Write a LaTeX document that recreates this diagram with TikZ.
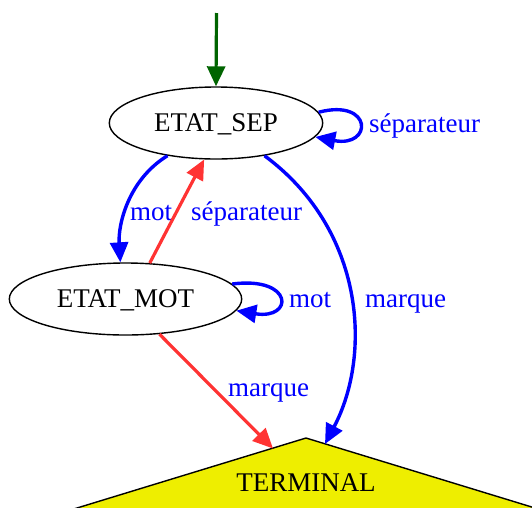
\documentclass[tikz,border=0pt]{standalone}
\usepackage{fontspec}
\setmainfont{Liberation Serif}
\usetikzlibrary{arrows.meta,shapes.geometric,calc}
\definecolor{eblue}{RGB}{0,0,255}
\definecolor{ered}{RGB}{255,51,51}
\definecolor{egreen}{RGB}{0,100,0}
\definecolor{tyellow}{RGB}{238,238,0}
\tikzset{
  state/.style={draw=black, line width=1.4pt, ellipse, inner sep=0pt, fill=white,
    font=\fontsize{27}{32}\selectfont, text height=17.8pt, text depth=0pt},
  blueedge/.style={draw=eblue, line width=3.4pt, -{Triangle[length=20pt,width=18pt]}},
  rededge/.style={draw=ered, line width=3.2pt, -{Triangle[length=20pt,width=18pt]}},
  greenedge/.style={draw=egreen, line width=3.2pt, -{Triangle[length=20pt,width=18pt]}},
  elabel/.style={text=eblue, font=\fontsize{27}{32}\selectfont, inner sep=0pt, anchor=base west},
}
\begin{document}
\begin{tikzpicture}[x=1pt,y=-1pt]
\useasboundingbox (0,0) rectangle (532,507);
% terminal triangle
\begin{scope}
  \clip (0,0) rectangle (532,507);
  \draw[fill=tyellow, line width=1.4pt, line join=miter] (306,438) -- (5,530) -- (607,530) -- cycle;
\end{scope}
\node[font=\fontsize{27}{32}\selectfont, inner sep=0pt, text height=17.8pt, text depth=0pt] (term) at (306,483) {TERMINAL};
\coordinate (tA) at (273,448.5);
\coordinate (tB) at (325,444);

\node[state, minimum width=213.4pt, minimum height=72pt] (sep) at (216,123) {ETAT\_SEP};
\node[state, minimum width=232.4pt, minimum height=72pt] (mot) at (125.5,299) {ETAT\_MOT};

\coordinate (start) at (216.5,13);
\draw[greenedge] (start) -- (sep.north);

% self loops
\draw[blueedge] (sep.6) .. controls (373,98) and (373,148) .. (sep.-8);
\node[elabel] (l1) at (369,132) {séparateur};
\draw[blueedge] (mot.8) .. controls (294,276) and (294,320) .. (mot.-6);
\node[elabel] (l2) at (289,307) {mot};

% SEP -> MOT
\draw[blueedge] (sep.214) .. controls (128,180) and (118,225) .. (mot.98);
\node[elabel] (l3) at (130,220) {mot};

% MOT -> SEP
\draw[rededge] (mot.56) .. controls (168,228) and (188,190) .. (sep.252);
\node[elabel] (l4) at (191,220) {séparateur};

% SEP -> TERMINAL
\draw[blueedge] (sep.-34) .. controls (365,230) and (372,355) .. (tB);
\node[elabel] (l5) at (365,307) {marque};

% MOT -> TERMINAL
\draw[rededge] (mot.-46) -- (tA);
\node[elabel] (l6) at (228,396) {marque};
\end{tikzpicture}
\end{document}
